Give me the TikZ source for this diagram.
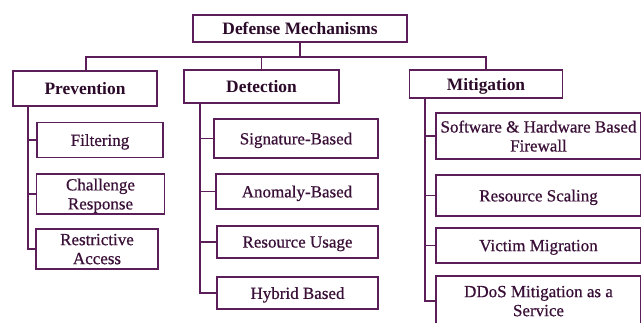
\documentclass[tikz,border=0pt]{standalone}
\usepackage{fontspec}
\setmainfont{Liberation Serif}
\newfontface\leaffont{Liberation Serif}[FakeBold=0.6]
\definecolor{lnc}{HTML}{5C1E58}
\definecolor{txc}{HTML}{3A1038}
\definecolor{hdc}{HTML}{2C0A2A}
\tikzset{
  x=1pt, y=-1pt,
  boxbase/.style={draw=lnc, line width=1.6pt, fill=white, inner sep=0pt, align=center, text depth=0pt},
  head/.style={boxbase, text=hdc, font=\fontsize{17.4}{19}\selectfont\bfseries},
  leaf/.style={boxbase, text=txc, font=\fontsize{17}{19}\leaffont},
  link/.style={draw=lnc, line width=1.6pt}
}
\begin{document}
\begin{tikzpicture}
\useasboundingbox (0,0) rectangle (641,322);
\clip (0,0) rectangle (641,322);
\coordinate (busL) at (86,57);
\coordinate (pvx) at (28,0);
\coordinate (dvx) at (200,0);
\coordinate (mvx) at (425,0);
\node[head, minimum width=214pt, minimum height=27pt] (root) at (300,28.5) {Defense Mechanisms};
\node[head, minimum width=144pt, minimum height=35pt] (prev) at (85,88.5) {Prevention};
\node[head, minimum width=155pt, minimum height=33pt] (det) at (261.5,86.5) {Detection};
\node[head, minimum width=153pt, minimum height=28pt] (mit) at (486,84) {Mitigation};
% prevention leaves
\node[leaf, minimum width=126pt, minimum height=35pt] (filt) at (100,140) {Filtering};
\node[leaf, minimum width=128pt, minimum height=40pt] (chal) at (100.5,194) {Challenge\\Response};
\node[leaf, minimum width=122pt, minimum height=40pt] (restr) at (97,249) {Restrictive\\Access};
% detection leaves
\node[leaf, minimum width=164pt, minimum height=39pt] (sig) at (296,138.5) {Signature-Based};
\node[leaf, minimum width=162pt, minimum height=35pt] (anom) at (297,191.5) {Anomaly-Based};
\node[leaf, minimum width=161pt, minimum height=32pt] (res) at (297.5,242) {Resource Usage};
\node[leaf, minimum width=161pt, minimum height=32pt] (hyb) at (297.5,293) {Hybrid Based};
% mitigation leaves
\node[leaf, minimum width=205pt, minimum height=46pt] (fw) at (538.5,136) {Software \& Hardware Based\\Firewall};
\node[leaf, minimum width=205pt, minimum height=41pt] (scal) at (538.5,195.5) {Resource Scaling};
\node[leaf, minimum width=205pt, minimum height=35pt] (vict) at (538.5,245.5) {Victim Migration};
\node[leaf, minimum width=205pt, minimum height=50pt] (ddos) at (538.5,301) {DDoS Mitigation as a\\Service};
% connectors
\draw[link] (root.south) -- (root.south |- busL);
\draw[link] (prev.north -| busL) -- (busL) -- (busL -| mit.north) -- (mit.north);
\draw[link] (det.north) -- (det.north |- busL);
\draw[link] (prev.south -| pvx) |- (restr.west);
\draw[link] (pvx |- filt.west) -- (filt.west);
\draw[link] (pvx |- chal.west) -- (chal.west);
\draw[link] (det.south -| dvx) |- (hyb.west);
\draw[link] (dvx |- sig.west) -- (sig.west);
\draw[link] (dvx |- anom.west) -- (anom.west);
\draw[link] (dvx |- res.west) -- (res.west);
\draw[link] (mit.south -| mvx) |- (ddos.west);
\draw[link] (mvx |- fw.west) -- (fw.west);
\draw[link] (mvx |- scal.west) -- (scal.west);
\draw[link] (mvx |- vict.west) -- (vict.west);
\end{tikzpicture}
\end{document}
